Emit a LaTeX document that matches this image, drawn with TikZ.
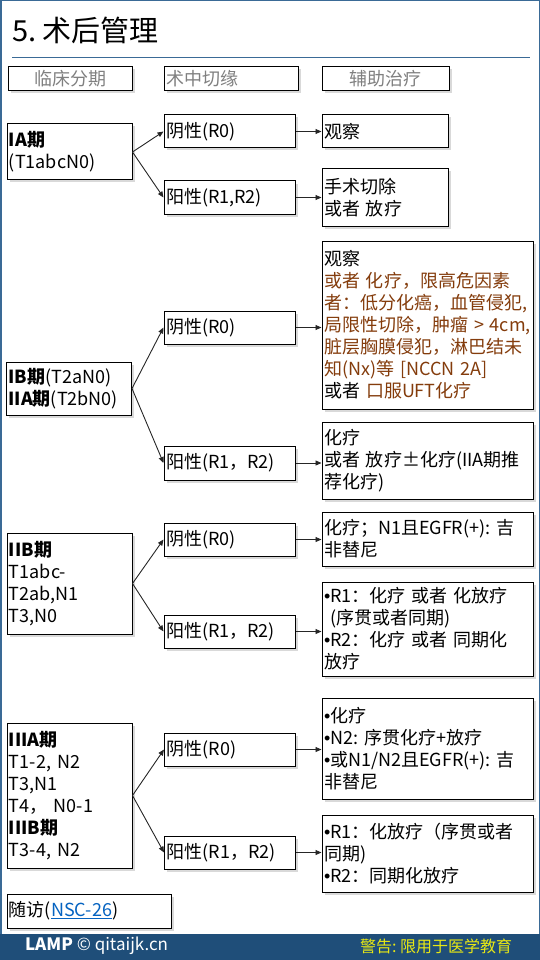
\documentclass[tikz,border=0pt]{standalone}
\usepackage{fontspec}
\setmainfont{Noto Sans CJK SC}
\newfontfamily\bulletfont{Liberation Sans}
\usetikzlibrary{arrows.meta, shadows}
\definecolor{frameblue}{RGB}{58,106,150}
\definecolor{footblue}{RGB}{31,78,121}
\definecolor{hdrgray}{RGB}{128,128,128}
\definecolor{riskbrown}{RGB}{132,60,12}
\definecolor{linkblue}{RGB}{5,99,193}
\definecolor{warnyellow}{RGB}{232,232,20}
\tikzset{
  box/.style={
    draw=black, line width=1pt, fill=white,
    inner xsep=2pt, inner ysep=2pt,
    align=left,
    font=\fontsize{18}{22}\selectfont,
    drop shadow={shadow xshift=2.5pt, shadow yshift=-2.5pt, opacity=0.3}
  },
  hdrbox/.style={box, minimum height=24pt, text=hdrgray},
  stagebox/.style={box, text width=121pt},
  cutbox/.style={box, text width=127pt, minimum height=33pt},
  advbox/.style={box, text width=122pt},
  wideadv/.style={box, text width=207pt}
}
\newcommand{\fanout}[3]{
  \draw[link] (#1.east) -- (#2.west);
  \draw[link] (#1.east) -- (#3.west);
}
\newcommand{\bul}{{\bulletfont •}}

\begin{document}
\begin{tikzpicture}[
  x=1pt, y=-1pt,
  link/.style={-{Triangle[length=6pt, width=5pt]}, line width=0.9pt, black!85},
  foot/.style={anchor=west, inner sep=0pt, font=\fontsize{17}{20}\selectfont},
]
\useasboundingbox (0,0) rectangle (540,960);

% Rahmen und Fusszeile
\draw[frameblue, line width=1.5pt] (0.75,0.75) rectangle (539.25,935);
\fill[footblue] (0,934) rectangle (540,960);

% Titel
\node[anchor=west, inner sep=0pt, font=\fontsize{29}{34}\selectfont] (title) at (12,30) {5.~术后管理};
\draw[frameblue, line width=1pt] (12,58) -- (530,58);

% Kopfzeile
\node[hdrbox, minimum width=124pt] (hdrstage) at (70,79) {临床分期};
\node[hdrbox, text width=130pt] (hdrcut) at (231,79) {术中切缘};
\node[hdrbox, minimum width=127pt] (hdradv) at (385.5,79) {辅助治疗};

% IA
\node[stagebox, minimum height=56pt] (stageia) at (69.5,152) {\textbf{IA期}\\(T1abcN0)};
\node[cutbox] (negia) at (229.5,131.5) {阴性(R0)};
\node[cutbox] (posia) at (229.5,197.5) {阳性(R1,R2)};
\node[advbox, minimum height=33pt] (advnegia) at (385,131.5) {观察};
\node[advbox, minimum height=57pt] (advposia) at (385,197.5) {手术切除\\或者~放疗};

% IB / IIA
\node[stagebox, minimum height=53pt] (stageib) at (69,388.5) {\textbf{IB期}(T2aN0)\\\textbf{IIA期}(T2bN0)};
\node[cutbox] (negib) at (229.5,327.5) {阴性(R0)};
\node[cutbox, minimum height=34pt] (posib) at (229.5,463) {阳性(R1，R2)};
\node[wideadv, minimum height=168pt] (advnegib) at (427.5,325) {观察\\
  \textcolor{riskbrown}{或者~化疗，限高危因素}\\
  \textcolor{riskbrown}{者：低分化癌，血管侵犯,}\\
  \textcolor{riskbrown}{局限性切除，肿瘤~>~4cm,}\\
  \textcolor{riskbrown}{脏层胸膜侵犯，淋巴结未}\\
  \textcolor{riskbrown}{知(Nx)等~[NCCN~2A]}\\
  或者~\textcolor{riskbrown}{口服UFT化疗}};
\node[wideadv, minimum height=77pt] (advposib) at (427.5,460.5) {化疗\\或者~放疗±化疗(IIA期推\\荐化疗)};

% IIB
\node[stagebox, minimum height=101pt] (stageiib) at (69.5,583.5) {\textbf{IIB期}\\T1abc-\\T2ab,N1\\T3,N0};
\node[cutbox] (negiib) at (229.5,539.5) {阴性(R0)};
\node[cutbox] (posiib) at (229.5,631.5) {阳性(R1，R2)};
\node[wideadv, minimum height=54pt] (advnegiib) at (427.5,539) {化疗；N1且EGFR(+):~吉\\非替尼};
\node[wideadv, minimum height=94pt] (advposiib) at (427.5,629) {\bul R1：化疗~或者~化放疗\\~(序贯或者同期)\\\bul R2：化疗~或者~同期化\\放疗};

% IIIA / IIIB
\node[stagebox, minimum height=145pt] (stageiii) at (69.5,795.5) {\textbf{IIIA期}\\T1-2,~N2\\T3,N1\\T4，~N0-1\\\textbf{IIIB期}\\T3-4,~N2};
\node[cutbox] (negiii) at (230,749.5) {阴性(R0)};
\node[cutbox] (posiii) at (230,852.5) {阳性(R1，R2)};
\node[wideadv, minimum height=101pt] (advnegiii) at (427.5,748.5) {\bul 化疗\\\bul N2:~序贯化疗+放疗\\\bul 或N1/N2且EGFR(+):~吉\\非替尼};
\node[wideadv, minimum height=77pt] (advposiii) at (427.5,853.5) {\bul R1：化放疗（序贯或者\\同期)\\\bul R2：同期化放疗};

% Nachsorge
\node[box, text width=160pt, minimum height=34pt] (followup) at (89,911) {随访(\textcolor{linkblue}{\underline{NSC-26}})};

% Verbindungen
\fanout{stageia}{negia}{posia}
\fanout{stageib}{negib}{posib}
\fanout{stageiib}{negiib}{posiib}
\fanout{stageiii}{negiii}{posiii}
\draw[link] (negia.east) -- (advnegia.west |- negia.east);
\draw[link] (posia.east) -- (advposia.west |- posia.east);
\draw[link] (negib.east) -- (advnegib.west |- negib.east);
\draw[link] (posib.east) -- (advposib.west |- posib.east);
\draw[link] (negiib.east) -- (advnegiib.west |- negiib.east);
\draw[link] (posiib.east) -- (advposiib.west |- posiib.east);
\draw[link] (negiii.east) -- (advnegiii.west |- negiii.east);
\draw[link] (posiii.east) -- (advposiii.west |- posiii.east);

% Fusszeile Text
\node[foot, text=white] (footlamp) at (25,946) {\textbf{LAMP}~©~qitaijk.cn};
\node[foot, text=warnyellow, font=\fontsize{16}{19}\selectfont] (footwarn) at (360,946) {警告:~限用于医学教育};

\end{tikzpicture}
\end{document}
